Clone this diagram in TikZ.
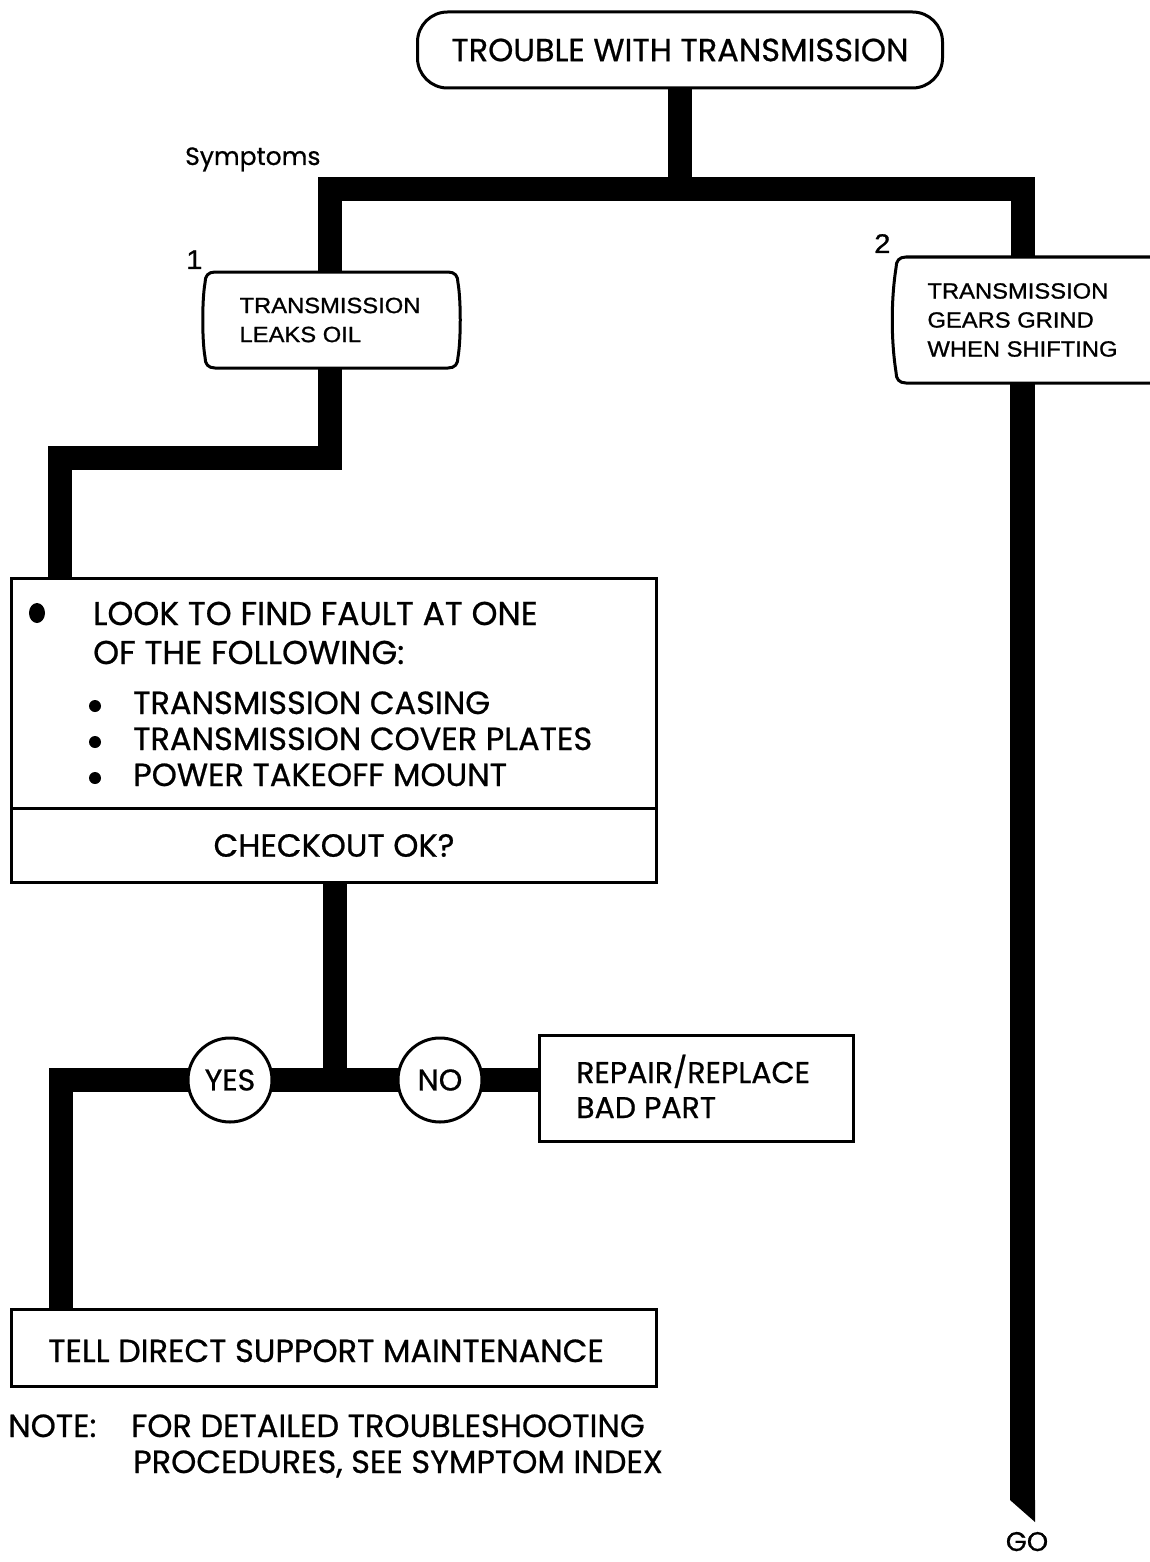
\documentclass[tikz,border=0pt]{standalone}
\usepackage{fontspec}
\setmainfont{Liberation Sans}
\newfontfamily\fut[FakeBold=0.7]{Poppins}
\newfontfamily\helv[FakeStretch=1.08,FakeBold=1.0]{Liberation Sans}
\begin{document}
\begin{tikzpicture}[x=1pt,y=-1pt,
  bar/.style={line width=24pt, line join=miter},
  outl/.style={line width=3pt},
  box/.style={draw, line width=3pt, rectangle, inner sep=0pt},
  ft/.style={font=\fut\fontsize{32}{38}\selectfont},
  ftb/.style={font=\fut\fontsize{33}{39}\selectfont},
  ftr/.style={font=\fut\fontsize{30}{36}\selectfont},
  fts/.style={font=\fut\fontsize{25}{30}\selectfont},
  ftg/.style={font=\fut\fontsize{27}{32}\selectfont},
  ftc/.style={font=\fut\fontsize{30}{35}\selectfont},
  hv/.style={font=\helv\fontsize{22}{29}\selectfont},
  hvn/.style={font=\helv\fontsize{27}{32}\selectfont},
  txt/.style={inner sep=0pt, anchor=base west}]
\useasboundingbox[fill=white] (0,0) rectangle (1150,1562);

% title
\node[box, ft, rounded corners=30pt, minimum width=525pt, minimum height=76pt] (top) at (680,50) {TROUBLE WITH TRANSMISSION};
\node[fts, txt] (sym) at (185,165) {Symptoms};

% symptom boxes (invisible holders, outlines drawn below)
\node[hv, align=left, minimum width=255pt, minimum height=96pt, inner sep=0pt] (b1) at (330,320) {TRANSMISSION\\LEAKS OIL};
\node[hv, align=left, minimum width=200pt, minimum height=126pt, inner sep=0pt] (b2) at (1022.5,320) {TRANSMISSION\\GEARS GRIND\\WHEN SHIFTING};
\node[hvn, txt] (n1) at (186,269) {1};
\node[hvn, txt] (n2) at (874,253) {2};

\draw[outl] (215,272) -- (448,272) .. controls (455,272) and (458,276) .. (458,283)
  .. controls (461,300) and (461,340) .. (458,357) .. controls (458,364) and (455,368) .. (448,368)
  -- (215,368) .. controls (208,368) and (205,364) .. (205,357)
  .. controls (202,340) and (202,300) .. (205,283) .. controls (205,276) and (208,272) .. (215,272) -- cycle;
\draw[outl] (1153,257) -- (906,257) .. controls (899,257) and (896,261) .. (896,268)
  .. controls (891,300) and (891,340) .. (896,372) .. controls (896,379) and (899,383) .. (906,383) -- (1153,383);

% big box
\node[box, minimum width=645pt, minimum height=230pt, anchor=north west] (big) at (10,577) {};
\node[box, ft, minimum width=645pt, minimum height=74pt, anchor=north west] (chk) at (10,807) {CHECKOUT OK?};
\node[ftb, txt] (l1) at (93,625) {LOOK TO FIND FAULT AT ONE};
\node[ftb, txt] (l2) at (93,664) {OF THE FOLLOWING:};
\node[ft, txt] (l3) at (133,714) {TRANSMISSION CASING};
\node[ft, txt] (l4) at (133,750) {TRANSMISSION COVER PLATES};
\node[ft, txt] (l5) at (133,786) {POWER TAKEOFF MOUNT};
\fill (37,613) ellipse (8pt and 10pt);
\fill (95,706) circle (6pt);
\fill (95,742) circle (6pt);
\fill (95,778) circle (6pt);

% repair box and tell box
\node[box, minimum width=314pt, minimum height=106pt, anchor=north west] (rep) at (538,1034) {};
\node[ftr, txt] (r1) at (576,1083) {REPAIR/REPLACE};
\node[ftr, txt] (r2) at (576,1118) {BAD PART};
\node[box, minimum width=645pt, minimum height=77pt, anchor=north west] (tell) at (10,1308) {};
\node[ft, txt] (t1) at (48,1362) {TELL DIRECT SUPPORT MAINTENANCE};

% note
\node[ft, txt] (note) at (8,1437) {NOTE:};
\node[ft, txt] (nt1) at (131,1437) {FOR DETAILED TROUBLESHOOTING};
\node[ft, txt] (nt2) at (133,1473) {PROCEDURES, SEE SYMPTOM INDEX};

% connectors
\coordinate (jl) at (330,189);
\coordinate (jr) at (1022.5,189);
\draw[bar] (top.south) -- (top.south |- jl);
\draw[bar] (b1.north) -- (jl) -- (jr) -- (jr |- b2.north);
\coordinate (gotip) at (1022.5,1500);
\draw[line width=25pt] (b2.south) -- (gotip);
\fill ([xshift=-12.5pt]gotip) -- ([xshift=12.5pt]gotip) -- ([xshift=12.5pt,yshift=-22pt]gotip) -- cycle;
\node[ftg, anchor=base] (go) at (1027,1551) {GO};

\coordinate (jog) at (60,458);
\draw[bar] (b1.south) |- (jog) -- (jog |- big.north);

\coordinate (jyn) at (335,1080);
\coordinate (jy) at (61,1080);
\draw[bar] (chk.south -| jyn) -- (jyn);
\draw[bar] (tell.north -| jy) -- (jy) -- (jy -| rep.west);

\node[draw, outl, circle, fill=white, minimum size=84pt, inner sep=0pt, ftc] (yes) at (230,1080) {YES};
\node[draw, outl, circle, fill=white, minimum size=84pt, inner sep=0pt, ftc] (no) at (440,1080) {NO};
\end{tikzpicture}
\end{document}
